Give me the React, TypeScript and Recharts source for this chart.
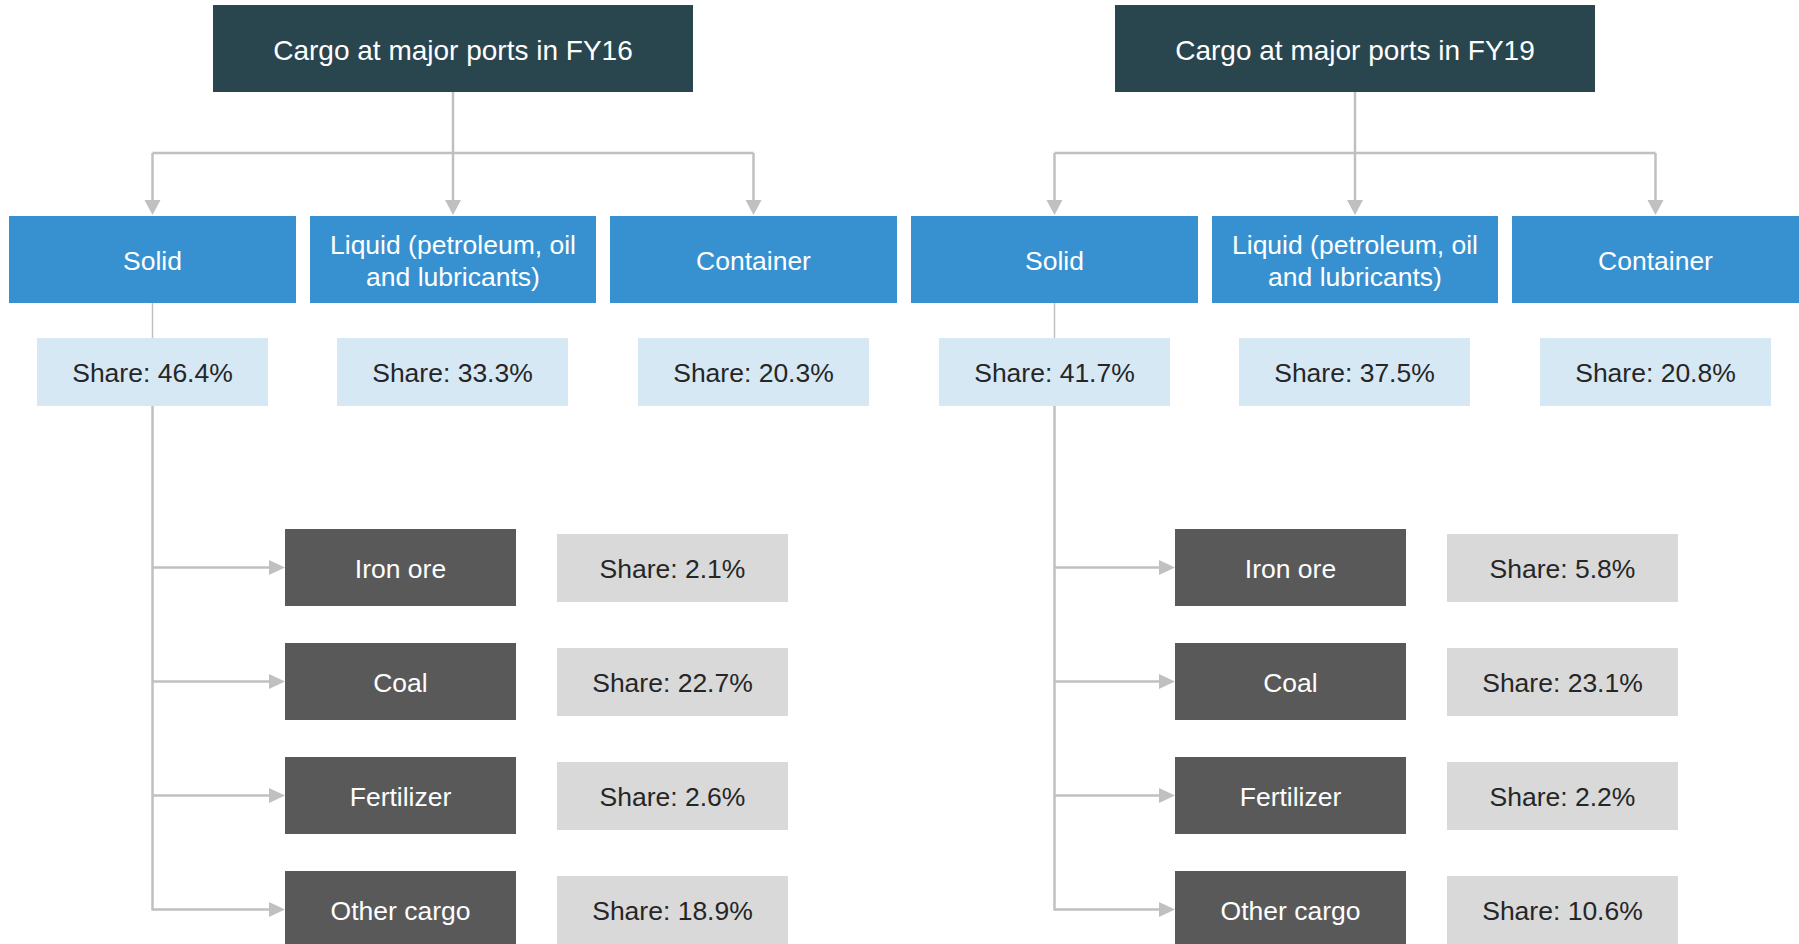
import React from 'react';
import { ComposedChart, XAxis, YAxis, ReferenceArea, ReferenceLine, ReferenceDot } from 'recharts';

// ---------- data ----------
const panelYears = ['FY16', 'FY19'];
const panelTitles = ['Cargo at major ports in FY16', 'Cargo at major ports in FY19'];
const cargoTypes = ['Solid', 'Liquid (petroleum, oil and lubricants)', 'Container'];
const cargoTypeLines = [['Solid'], ['Liquid (petroleum, oil', 'and lubricants)'], ['Container']];
const cargoShareFY16 = [46.4, 33.3, 20.3];
const cargoShareFY19 = [41.7, 37.5, 20.8];
const solidCargo = ['Iron ore', 'Coal', 'Fertilizer', 'Other cargo'];
const solidShareFY16 = [2.1, 22.7, 2.6, 18.9];
const solidShareFY19 = [5.8, 23.1, 2.2, 10.6];

const cargoShares = [cargoShareFY16, cargoShareFY19];
const solidShares = [solidShareFY16, solidShareFY19];

// ---------- layout & style ----------
const W = 1799;
const H = 944;
const FONT = '"Liberation Sans", Arial, Helvetica, sans-serif';
const COLORS = {
  title: '#29464F',
  type: '#3791D1',
  share: '#D7E8F5',
  sub: '#595959',
  subShare: '#D9D9D9',
  line: '#C0C0C0',
  darkText: '#262626',
  lightText: '#FFFFFF',
};
const L = {
  panelX: [0, 902],
  subShift: [0, -12],
  title: { x1: 213, x2: 693, y1: 5, y2: 92 },
  typeX: [[9, 296], [310, 596], [610, 897]],
  typeY: [216, 303],
  shareX: [[37, 268], [337, 568], [638, 869]],
  shareY: [338, 406],
  busY: 153,
  arrowLen: 15,
  subX: [285, 516],
  subY0: 529,
  subH: 77,
  subStep: 114,
  subShareX: [557, 788],
  subShareY0: 534,
  subShareH: 68,
};

const fmt = (v: number) => `Share: ${v.toFixed(1)}%`;

const boxShape = (fill: string, lines: string[], color: string, fontSize: number, dy = '0.38em') => (p: any) => {
  const { x, y, width, height } = p;
  const cx = x + width / 2;
  const cy = y + height / 2;
  const lh = 32;
  const start = cy - ((lines.length - 1) * lh) / 2;
  return (
    <g>
      <rect x={x} y={y} width={width} height={height} fill={fill} />
      <text textAnchor="middle" fill={color} fontSize={fontSize} fontFamily={FONT}>
        {lines.map((t, i) => (
          <tspan key={i} x={cx} y={start + i * lh} dy={dy}>
            {t}
          </tspan>
        ))}
      </text>
    </g>
  );
};

const downArrow = (p: any) => {
  const { cx, cy } = p;
  return <polygon points={`${cx - 8},${cy - 15} ${cx + 8},${cy - 15} ${cx},${cy}`} fill={COLORS.line} />;
};
const rightArrow = (p: any) => {
  const { cx, cy } = p;
  return <polygon points={`${cx - 16},${cy - 7.5} ${cx - 16},${cy + 7.5} ${cx},${cy}`} fill={COLORS.line} />;
};

export default function App() {
  const elems: React.ReactNode[] = [];
  panelYears.forEach((year, pi) => {
    const ox = L.panelX[pi];
    const sx = ox + L.subShift[pi];
    const titleCx = ox + (L.title.x1 + L.title.x2) / 2;
    const typeCx = L.typeX.map(([a, b]) => ox + (a + b) / 2);
    const solidCx = typeCx[0];
    const lastArrowY = L.subY0 + (solidCargo.length - 1) * L.subStep + L.subH / 2;

    // connectors
    elems.push(
      <ReferenceLine key={`${year}-stem`} segment={[{ x: titleCx, y: L.title.y2 }, { x: titleCx, y: L.busY }]}
        stroke={COLORS.line} strokeWidth={2.5} ifOverflow="visible" />,
      <ReferenceLine key={`${year}-bus`} segment={[{ x: typeCx[0], y: L.busY }, { x: typeCx[2], y: L.busY }]}
        stroke={COLORS.line} strokeWidth={2.5} ifOverflow="visible" />
    );
    cargoTypes.forEach((c, ci) => {
      elems.push(
        <ReferenceLine key={`${year}-drop-${ci}`} segment={[{ x: typeCx[ci], y: L.busY }, { x: typeCx[ci], y: L.typeY[0] - L.arrowLen }]}
          stroke={COLORS.line} strokeWidth={2.5} ifOverflow="visible" />,
        <ReferenceDot key={`${year}-dh-${ci}`} x={typeCx[ci]} y={L.typeY[0] - 1} shape={downArrow} ifOverflow="visible" />
      );
    });
    elems.push(
      <ReferenceLine key={`${year}-solid-thin`} segment={[{ x: solidCx, y: L.typeY[1] }, { x: solidCx, y: L.shareY[0] }]}
        stroke={COLORS.line} strokeWidth={1.5} ifOverflow="visible" />,
      <ReferenceLine key={`${year}-solid-trunk`} segment={[{ x: solidCx, y: L.shareY[1] }, { x: solidCx, y: lastArrowY + 1 }]}
        stroke={COLORS.line} strokeWidth={2.5} ifOverflow="visible" />
    );
    solidCargo.forEach((s, si) => {
      const ay = L.subY0 + si * L.subStep + L.subH / 2;
      const tipX = sx + L.subX[0];
      elems.push(
        <ReferenceLine key={`${year}-br-${si}`} segment={[{ x: solidCx, y: ay }, { x: tipX - 16, y: ay }]}
          stroke={COLORS.line} strokeWidth={2.5} ifOverflow="visible" />,
        <ReferenceDot key={`${year}-rh-${si}`} x={tipX} y={ay} shape={rightArrow} ifOverflow="visible" />
      );
    });

    // boxes
    elems.push(
      <ReferenceArea key={`${year}-title`} x1={ox + L.title.x1} x2={ox + L.title.x2} y1={L.title.y1} y2={L.title.y2}
        ifOverflow="visible" shape={boxShape(COLORS.title, [panelTitles[pi]], COLORS.lightText, 28, '0.4em')} />
    );
    cargoTypes.forEach((c, ci) => {
      elems.push(
        <ReferenceArea key={`${year}-type-${ci}`} x1={ox + L.typeX[ci][0]} x2={ox + L.typeX[ci][1]} y1={L.typeY[0]} y2={L.typeY[1]}
          ifOverflow="visible" shape={boxShape(COLORS.type, cargoTypeLines[ci], COLORS.lightText, 26.5)} />,
        <ReferenceArea key={`${year}-share-${ci}`} x1={ox + L.shareX[ci][0]} x2={ox + L.shareX[ci][1]} y1={L.shareY[0]} y2={L.shareY[1]}
          ifOverflow="visible" shape={boxShape(COLORS.share, [fmt(cargoShares[pi][ci])], COLORS.darkText, 26.5)} />
      );
    });
    solidCargo.forEach((s, si) => {
      const y1 = L.subY0 + si * L.subStep;
      const y2 = L.subShareY0 + si * L.subStep;
      elems.push(
        <ReferenceArea key={`${year}-sub-${si}`} x1={sx + L.subX[0]} x2={sx + L.subX[1]} y1={y1} y2={y1 + L.subH}
          ifOverflow="visible" shape={boxShape(COLORS.sub, [s], COLORS.lightText, 26.5)} />,
        <ReferenceArea key={`${year}-subshare-${si}`} x1={sx + L.subShareX[0]} x2={sx + L.subShareX[1]} y1={y2} y2={y2 + L.subShareH}
          ifOverflow="visible" shape={boxShape(COLORS.subShare, [fmt(solidShares[pi][si])], COLORS.darkText, 26.5)} />
      );
    });
  });

  return (
    <div style={{ position: 'absolute', left: 0, top: 0, width: W, height: H, background: '#fff', overflow: 'hidden' }}>
      <ComposedChart width={W} height={H} data={[{ x: 0, y: 0 }, { x: W, y: H }]} margin={{ top: 0, right: 0, bottom: 0, left: 0 }}>
        <XAxis type="number" dataKey="x" domain={[0, W]} hide allowDataOverflow />
        <YAxis type="number" dataKey="y" domain={[0, H]} reversed hide allowDataOverflow />
        {elems}
      </ComposedChart>
    </div>
  );
}
